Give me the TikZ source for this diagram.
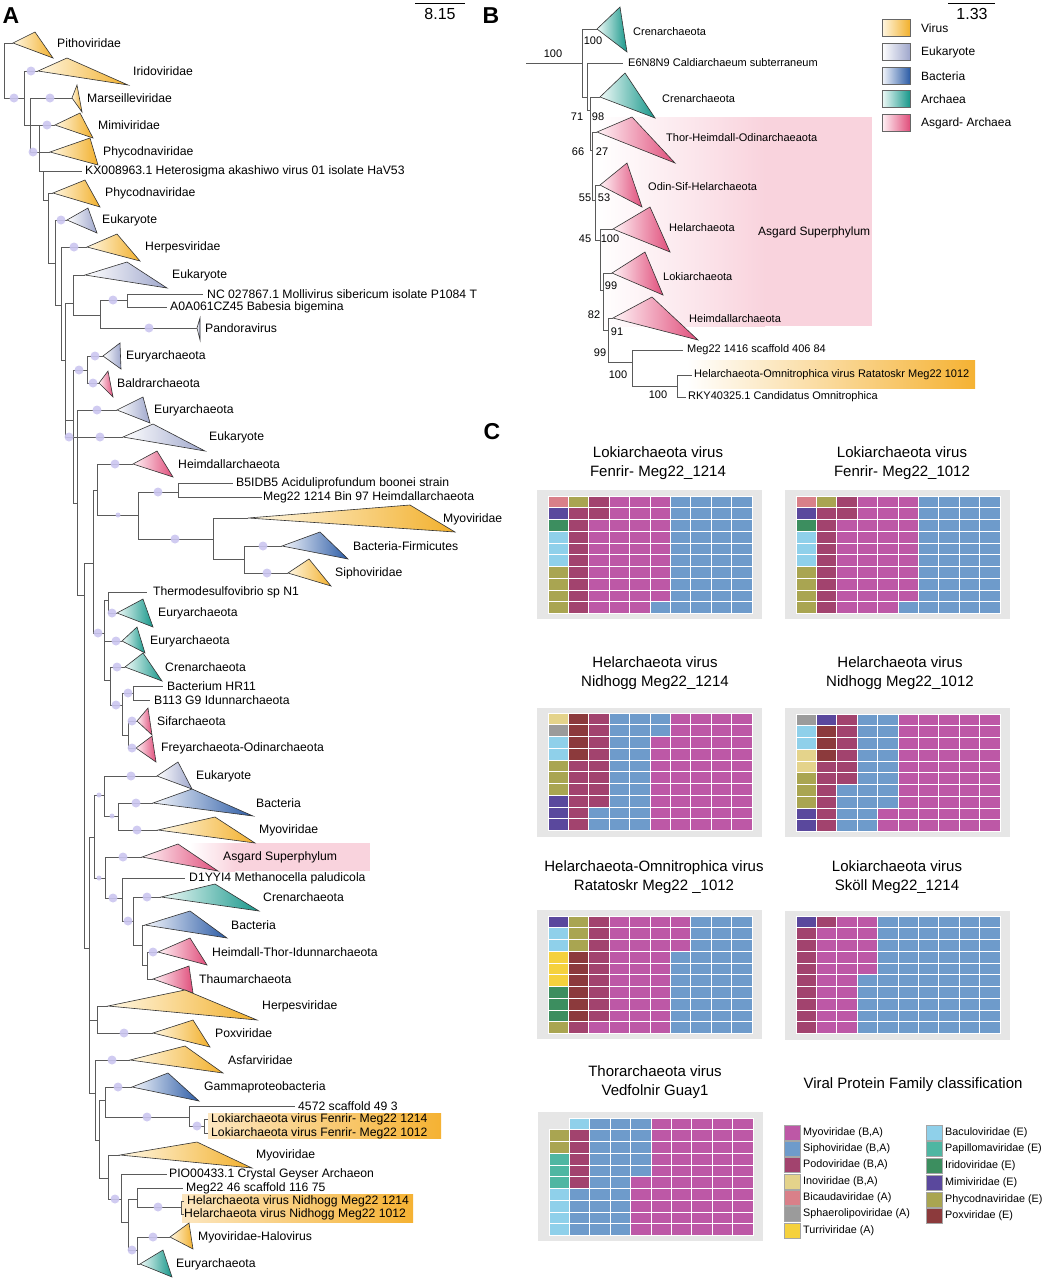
\documentclass[tikz,border=0pt]{standalone}
\usepackage{fontspec}
\setmainfont{Liberation Sans}
\definecolor{vR}{HTML}{F2B02C}\definecolor{vL}{HTML}{FFF7E3}
\definecolor{eR}{HTML}{9FA7CC}\definecolor{eL}{HTML}{FFFFFF}
\definecolor{bR}{HTML}{2C5CA6}\definecolor{bL}{HTML}{F4F6FB}
\definecolor{aR}{HTML}{17978A}\definecolor{aL}{HTML}{F0FAF8}
\definecolor{gR}{HTML}{E04E7B}\definecolor{gL}{HTML}{FFF3F6}
\definecolor{dotc}{HTML}{CBC6F0}
\definecolor{treec}{HTML}{5A5A5A}
\definecolor{hlpink}{HTML}{F9D3DD}
\definecolor{hlorange}{HTML}{F5B233}
\definecolor{hlorL}{HTML}{FCE6BF}
\definecolor{bggray}{HTML}{E6E6E6}
\definecolor{wM}{HTML}{BD58A6}\definecolor{wS}{HTML}{6E9BCB}
\definecolor{wP}{HTML}{A2436E}\definecolor{wI}{HTML}{E4D38B}
\definecolor{wB}{HTML}{D98089}\definecolor{wG}{HTML}{9B9B9B}
\definecolor{wT}{HTML}{F5D13D}\definecolor{wL}{HTML}{8FD0EA}
\definecolor{wA}{HTML}{4FB6A2}\definecolor{wR}{HTML}{3C8E5F}
\definecolor{wV}{HTML}{5A489D}\definecolor{wO}{HTML}{A9A551}
\definecolor{wX}{HTML}{8C3A3C}
\tikzset{
 br/.style={draw=treec, line width=0.75pt},
 tri/.style={draw=black!80, line width=0.6pt},
 lbl/.style={anchor=west, inner sep=0pt, font=\fontsize{12.2}{14}\selectfont},
 blbl/.style={anchor=west, inner sep=0pt, font=\fontsize{11}{13}\selectfont},
 num/.style={inner sep=0pt, font=\fontsize{11}{13}\selectfont},
 ttl/.style={align=center, inner sep=0pt, font=\fontsize{15}{19}\selectfont},
 leg/.style={anchor=west, inner sep=0pt, font=\fontsize{10.8}{13}\selectfont},
 bleg/.style={anchor=west, inner sep=0pt, font=\fontsize{12}{14}\selectfont},
 panel/.style={inner sep=0pt, font=\fontsize{23}{26}\selectfont\bfseries},
 sbar/.style={inner sep=0pt, font=\fontsize{16}{18}\selectfont},
 dot/.style={fill=dotc, draw=none, fill opacity=0.9},
}
\newcommand{\clade}[7]{%
 \coordinate (#1) at (#2);
 \shadedraw[tri, left color=#5L, right color=#5R] (#2) -- (#3) -- (#4) -- cycle;
 \node[lbl] (#1-l) at (#6) {#7};}
\newcommand{\bclade}[7]{%
 \coordinate (#1) at (#2);
 \shadedraw[tri, left color=#5L, right color=#5R] (#2) -- (#3) -- (#4) -- cycle;
 \node[blbl] (#1-l) at (#6) {#7};}
\newcommand{\leaf}[4]{\coordinate (#1) at (#2); \node[lbl] (#1-l) at (#3) {#4};}
\newcommand{\bleaf}[4]{\coordinate (#1) at (#2); \node[blbl] (#1-l) at (#3) {#4};}
\newcommand{\kids}[2]{\foreach \kk in {#2}{\draw[br] (#1) |- (\kk);}}
\newcommand{\supdots}[1]{\foreach \px/\py in {#1}{\fill[dot] (\px,\py) circle (4.5pt);}}
\newcommand{\waffle}[3]{%
 \foreach \wk [count=\wi from 0] in {#3}{%
  \pgfmathtruncatemacro{\wc}{floor(\wi/10)}%
  \pgfmathtruncatemacro{\wr}{mod(\wi,10)}%
  \if\wk N\else
   \fill[fill=w\wk, draw=white, line width=1pt] ({#1+\wc*20.4},{#2+\wr*11.75}) rectangle ++(20.4,11.75);
  \fi}}
\newcommand{\legbox}[4]{\fill[fill=w#1, draw=black!35, line width=0.5pt] (#2,#3-7.5) rectangle ++(16,15); \node[leg] (lg#1) at (#2+19,#3) {#4};}
\begin{document}
\begin{tikzpicture}[x=1pt,y=-1pt]
\useasboundingbox (0,0) rectangle (1046,1280);
\fill[white] (0,0) rectangle (1046,1280);
% ---------------- Panel A ----------------
\node[panel] (pA) at (11,16) {A};
\draw[line width=1pt] (415,3) coordinate (sA1) -- (465,3) coordinate (sA2);
\node[sbar] (sAl) at (440,14) {8.15};
% highlights
\shade[left color=white, right color=hlpink] (190,843) rectangle (235,871);
\fill[hlpink] (235,843) rectangle (370,871);
\shade[left color=hlorL, right color=hlorange] (208,1113) rectangle (441,1138);
\shade[left color=hlorL, right color=hlorange] (182,1194) rectangle (413,1222);
% internal nodes
\coordinate (a1) at (4,70); \coordinate (a2) at (24,98); \coordinate (a3) at (30,125);
\coordinate (a4) at (39,125); \coordinate (a5) at (43,171); \coordinate (a6) at (48,200);
\coordinate (a7) at (55,263); \coordinate (a8) at (61,305); \coordinate (a9) at (65,360);
\coordinate (b1) at (73,303); \coordinate (b2) at (100,315); \coordinate (b3) at (127,300);
\coordinate (a10) at (73,420); \coordinate (c1) at (87,370); \coordinate (a11) at (77,503);
\coordinate (a12) at (84,595); \coordinate (d0) at (93,563); \coordinate (d1) at (97,490);
\coordinate (d2) at (138,515); \coordinate (d3) at (178,492); \coordinate (d4) at (213,539);
\coordinate (d5) at (244,559); \coordinate (e2) at (104,633); \coordinate (e1) at (108,600);
\coordinate (e3) at (110,680); \coordinate (e4) at (122,705); \coordinate (e5) at (133,693);
\coordinate (e6) at (128,735); \coordinate (a13) at (89,948); \coordinate (g1) at (94,837);
\coordinate (g2) at (104,795); \coordinate (g3) at (118,816); \coordinate (g5) at (105,878);
\coordinate (g6) at (122,898); \coordinate (g7) at (133,921); \coordinate (g8) at (142,945);
\coordinate (g9) at (147,965); \coordinate (h1) at (97,1020); \coordinate (h2) at (95,1093);
\coordinate (h3) at (99,1140); \coordinate (h4) at (105,1100); \coordinate (h5) at (189,1117);
\coordinate (h5b) at (204,1126); \coordinate (h6) at (108,1178); \coordinate (h7) at (121,1199);
\coordinate (h8) at (128,1222); \coordinate (h9) at (137,1199); \coordinate (h9b) at (181,1207);
\coordinate (h10) at (137,1250);
% clades
\clade{Pith}{13,43}{35,32}{53,58}{v}{57,43}{Pithoviridae}
\clade{Irid}{38,71}{67,58}{128,85}{v}{133,71}{Iridoviridae}
\clade{Mars}{72,98}{77,85}{82,112}{v}{87,98}{Marseilleviridae}
\clade{Mimi}{55,125}{80,113}{93,138}{v}{98,125}{Mimiviridae}
\clade{PhycoA}{50,152}{90,138}{98,165}{v}{103,152}{Phycodnaviridae}
\clade{PhycoB}{53,193}{85,180}{100,207}{v}{105,193}{Phycodnaviridae}
\clade{EukA}{67,220}{88,208}{97,233}{e}{102,220}{Eukaryote}
\clade{HerpA}{87,247}{117,234}{140,261}{v}{145,247}{Herpesviridae}
\clade{EukB}{85,275}{127,262}{167,288}{e}{172,275}{Eukaryote}
\clade{Pand}{197,328}{200,318}{200,340}{e}{205,328}{Pandoravirus}
\clade{EuryA}{103,356}{120,343}{121,369}{e}{126,356}{Euryarchaeota}
\clade{Baldr}{99,383}{108,371}{113,397}{g}{117,383}{Baldrarchaeota}
\clade{EuryB}{117,410}{143,397}{150,423}{e}{154,410}{Euryarchaeota}
\clade{EukC}{123,437}{153,424}{205,451}{e}{209,437}{Eukaryote}
\clade{HeimA}{133,464}{157,451}{173,477}{g}{178,464}{Heimdallarchaeota}
\clade{MyoA}{248,518}{410,505}{455,532}{v}{443,519}{Myoviridae}
\clade{BactF}{282,546}{320,532}{348,559}{b}{353,546}{Bacteria-Firmicutes}
\clade{Sipho}{288,573}{309,559}{331,586}{v}{335,573}{Siphoviridae}
\clade{EuryC}{117,613}{143,599}{153,627}{a}{158,613}{Euryarchaeota}
\clade{EuryD}{122,641}{137,627}{145,653}{a}{150,641}{Euryarchaeota}
\clade{CrenA}{125,667}{143,653}{162,681}{a}{165,667}{Crenarchaeota}
\clade{Sif}{137,721}{148,708}{152,735}{g}{157,721}{Sifarchaeota}
\clade{Frey}{136,748}{152,736}{156,762}{g}{161,748}{Freyarchaeota-Odinarchaeota}
\clade{EukD}{157,776}{178,762}{192,789}{e}{196,776}{Eukaryote}
\clade{BactA}{153,803}{192,789}{253,816}{b}{256,803}{Bacteria}
\clade{MyoB}{158,830}{215,817}{255,843}{v}{259,830}{Myoviridae}
\clade{Asg}{142,857}{178,844}{218,871}{g}{223,857}{Asgard Superphylum}
\clade{CrenB}{161,897}{215,884}{259,911}{a}{263,897}{Crenarchaeota}
\clade{BactB}{145,925}{190,911}{227,938}{b}{231,925}{Bacteria}
\clade{HTI}{158,952}{190,938}{207,965}{g}{212,952}{Heimdall-Thor-Idunnarchaeota}
\clade{Thaum}{153,979}{189,966}{193,993}{g}{199,979}{Thaumarchaeota}
\clade{HerpB}{108,1006}{185,990}{257,1020}{v}{262,1006}{Herpesviridae}
\clade{Pox}{153,1033}{193,1020}{210,1047}{v}{215,1033}{Poxviridae}
\clade{Asfar}{130,1060}{185,1046}{223,1073}{v}{228,1060}{Asfarviridae}
\clade{Gamma}{132,1087}{168,1073}{199,1101}{b}{204,1087}{Gammaproteobacteria}
\clade{MyoC}{120,1155}{197,1142}{252,1168}{v}{256,1155}{Myoviridae}
\clade{Halo}{170,1237}{189,1223}{193,1249}{v}{198,1237}{Myoviridae-Halovirus}
\clade{EuryE}{140,1264}{163,1250}{172,1277}{a}{176,1264}{Euryarchaeota}
% leaves
\leaf{KX}{82,171}{85,171}{KX008963.1 Heterosigma akashiwo virus 01 isolate HaV53}
\leaf{Molli}{203,294}{207,294}{NC 027867.1 Mollivirus sibericum isolate P1084 T}
\leaf{Babe}{167,307}{170,307}{A0A061CZ45 Babesia bigemina}
\leaf{B5}{233,483}{236,483}{B5IDB5 Aciduliprofundum boonei strain}
\leaf{MegBin}{262,497}{263,497}{Meg22 1214 Bin 97 Heimdallarchaeota}
\leaf{Thermo}{147,592}{153,592}{Thermodesulfovibrio sp N1}
\leaf{HR}{163,686}{167,686}{Bacterium HR11}
\leaf{B113}{150,700}{154,700}{B113 G9 Idunnarchaeota}
\leaf{D1}{185,878}{189,878}{D1YYI4 Methanocella paludicola}
\leaf{Scaf}{295,1106}{298,1106}{4572 scaffold 49 3}
\leaf{FenA}{208,1119}{211,1119}{Lokiarchaeota virus Fenrir- Meg22 1214}
\leaf{FenB}{208,1133}{211,1133}{Lokiarchaeota virus Fenrir- Meg22 1012}
\leaf{PIO}{167,1174}{169,1174}{PIO00433.1 Crystal Geyser Archaeon}
\leaf{Meg46}{183,1188}{186,1188}{Meg22 46 scaffold 116 75}
\leaf{NidA}{184,1201}{187,1201}{Helarchaeota virus Nidhogg Meg22 1214}
\leaf{NidB}{184,1214}{184,1214}{Helarchaeota virus Nidhogg Meg22 1012}
% edges
\kids{a1}{Pith,a2}\kids{a2}{Irid,a3}\kids{a3}{Mars,PhycoA,a4}\kids{a4}{Mimi,a5}
\kids{a5}{KX,a6}\kids{a6}{PhycoB,a7}\kids{a7}{EukA,a8}\kids{a8}{HerpA,a9}
\kids{a9}{b1,EukC,a10}\kids{b1}{EukB,b2}\kids{b2}{b3,Pand}\kids{b3}{Molli,Babe}
\kids{a10}{c1,a11}\kids{c1}{EuryA,Baldr}\kids{a11}{EuryB,a12}\kids{a12}{d0,a13}
\kids{d0}{d1,e2}\kids{d1}{HeimA,d2}\kids{d2}{d3,d4}\kids{d3}{B5,MegBin}
\kids{d4}{MyoA,d5}\kids{d5}{BactF,Sipho}\kids{e2}{e1,EuryD,e3}\kids{e1}{Thermo,EuryC}
\kids{e3}{CrenA,e4}\kids{e4}{e5,e6}\kids{e5}{HR,B113}\kids{e6}{Sif,Frey}
\kids{a13}{g1,h1,h2}\kids{g1}{g2,g5}\kids{g2}{EukD,g3}\kids{g3}{BactA,MyoB}
\kids{g5}{Asg,g6}\kids{g6}{D1,g7}\kids{g7}{CrenB,g8}\kids{g8}{BactB,g9}\kids{g9}{HTI,Thaum}
\kids{h1}{HerpB,Pox}\kids{h2}{Asfar,h3}\kids{h3}{h4,h6}\kids{h4}{Gamma,h5}
\kids{h5}{Scaf,h5b}\kids{h5b}{FenA,FenB}\kids{h6}{MyoC,h7}\kids{h7}{PIO,h8}
\kids{h8}{h9,h10}\kids{h9}{Meg46,h9b}\kids{h9b}{NidA,NidB}\kids{h10}{Halo,EuryE}
% support dots
\supdots{14/98,31/71,50/98,47/125,33/152,61/220,74/247,113/300,149/328,95/356,79/370,93/383,97/410,100/437,69/437,115/464,158/492,175/539,263/546,267/573,112/613,98/633,116/641,117/667,116/705,128/693,132/721,132/748,131/776,136/803,137/830,123/857,113/898,147/897,128/921,153/952,124/1033,112/1060,118/1087,147/1117,197/1126,115/1199,158/1207,153/1237,132/1250}
\foreach \px/\py in {118/515,112/816,99/795,99/878}{\fill[dot] (\px,\py) circle (2.5pt);}
% ---------------- Panel B ----------------
\node[panel] (pB) at (491,16) {B};
\draw[line width=1pt] (948,3) coordinate (sB1) -- (995,3) coordinate (sB2);
\node[sbar] (sBl) at (972,14) {1.33};
\shade[left color=white, right color=hlpink] (597,117) rectangle (765,326);
\fill[hlpink] (765,117) rectangle (872,326);
\shade[left color=white, right color=hlorange] (687,360) rectangle (975,388);
\node[bleg] (asgB) at (758,232) {Asgard Superphylum};
\coordinate (Rs) at (526,63); \coordinate (R) at (582,63);
\coordinate (N71) at (587,97); \coordinate (N98) at (590,110); \coordinate (N66) at (592,150);
\coordinate (N55) at (595,200); \coordinate (N45) at (600,240); \coordinate (N82) at (603,290);
\coordinate (N99) at (608,330); \coordinate (NA) at (632,362); \coordinate (NB) at (677,386);
\bclade{bCrenA}{597,29}{620,7}{627,52}{a}{633,32}{Crenarchaeota}
\bclade{bCrenB}{600,97}{625,73}{655,118}{a}{662,99}{Crenarchaeota}
\bclade{bThor}{597,132}{632,117}{675,163}{g}{666,138}{Thor-Heimdall-Odinarchaeaota}
\bclade{bOdin}{600,185}{627,163}{642,207}{g}{648,187}{Odin-Sif-Helarchaeota}
\bclade{bHel}{613,229}{650,207}{670,252}{g}{669,228}{Helarchaeota}
\bclade{bLoki}{612,273}{645,252}{663,295}{g}{663,277}{Lokiarchaeota}
\bclade{bHeim}{613,318}{652,297}{698,340}{g}{689,319}{Heimdallarchaeota}
\bleaf{bE6}{623,63}{628,63}{E6N8N9 Caldiarchaeum subterraneum}
\bleaf{bMeg}{683,350}{687,350}{Meg22 1416 scaffold 406 84}
\bleaf{bRat}{692,375}{694,375}{Helarchaeota-Omnitrophica virus Ratatoskr Meg22 1012}
\bleaf{bRKY}{686,397}{688,397}{RKY40325.1 Candidatus Omnitrophica}
\draw[br] (Rs) -- (R);
\kids{R}{bCrenA,N71}\kids{N71}{bE6,N98}\kids{N98}{bCrenB,N66}\kids{N66}{bThor,N55}
\kids{N55}{bOdin,N45}\kids{N45}{bHel,N82}\kids{N82}{bLoki,N99}\kids{N99}{bHeim,NA}
\kids{NA}{bMeg,NB}\kids{NB}{bRat,bRKY}
\foreach \t/\px/\py [count=\n] in {100/553/54,100/593/41,71/577/117,98/598/117,66/578/152,27/602/152,55/585/198,53/604/198,45/585/239,100/610/239,99/611/286,82/594/315,91/617/332,99/600/353,100/618/375,100/658/395}{\node[num] (bs\n) at (\px,\py) {\t};}
% legend B
\foreach \c/\lab/\yy [count=\n] in {v/Virus/28,e/Eukaryote/52,b/Bacteria/76,a/Archaea/99,g/Asgard- Archaea/123}{
 \shadedraw[draw=black!60, line width=0.6pt, left color=\c L, right color=\c R] (882,\yy-8.5) rectangle (910,\yy+8.5);
 \node[bleg] (lb\n) at (921,\yy) {\lab};}
% ---------------- Panel C ----------------
\node[panel] (pC) at (492,432) {C};
\foreach \bx/\by in {537/490,785/490,537/708,785/708,537/910,785/911,538/1112}{\fill[bggray] (\bx,\by) rectangle ++(225,129);}
\node[ttl] (t1) at (658,463) {Lokiarchaeota virus\\Fenrir- Meg22\_1214};
\node[ttl] (t2) at (902,463) {Lokiarchaeota virus\\Fenrir- Meg22\_1012};
\node[ttl] (t3) at (655,673) {Helarchaeota virus\\Nidhogg Meg22\_1214};
\node[ttl] (t4) at (900,673) {Helarchaeota virus\\Nidhogg Meg22\_1012};
\node[ttl] (t5) at (654,877) {Helarchaeota-Omnitrophica virus\\Ratatoskr Meg22 \_1012};
\node[ttl] (t6) at (897,877) {Lokiarchaeota virus\\Sköll Meg22\_1214};
\node[ttl] (t7) at (655,1082) {Thorarchaeota virus\\Vedfolnir Guay1};
\node[ttl] (t8) at (913,1085) {Viral Protein Family classification};
\waffle{548}{496}{B,V,R,L,L,L,O,O,O,O,O,P,P,P,P,P,P,P,P,P,P,P,M,M,M,M,M,M,M,M,M,M,M,M,M,M,M,M,M,M,M,M,M,M,M,M,M,M,M,M,M,M,M,M,M,M,M,M,M,S,S,S,S,S,S,S,S,S,S,S,S,S,S,S,S,S,S,S,S,S,S,S,S,S,S,S,S,S,S,S,S,S,S,S,S,S,S,S,S,S}
\waffle{796}{496}{B,V,R,L,L,L,O,O,O,O,O,P,P,P,P,P,P,P,P,P,P,P,M,M,M,M,M,M,M,M,M,M,M,M,M,M,M,M,M,M,M,M,M,M,M,M,M,M,M,M,M,M,M,M,M,M,M,M,M,S,S,S,S,S,S,S,S,S,S,S,S,S,S,S,S,S,S,S,S,S,S,S,S,S,S,S,S,S,S,S,S,S,S,S,S,S,S,S,S,S}
\waffle{548}{713}{I,G,L,L,O,O,O,V,V,V,X,X,X,X,P,P,P,P,P,P,P,P,P,P,P,P,P,P,S,S,S,S,S,S,S,S,S,S,S,S,S,S,S,S,S,S,S,S,S,S,S,S,M,M,M,M,M,M,M,M,M,M,M,M,M,M,M,M,M,M,M,M,M,M,M,M,M,M,M,M,M,M,M,M,M,M,M,M,M,M,M,M,M,M,M,M,M,M,M,M}
\waffle{796}{714}{G,L,L,I,I,O,O,O,V,V,V,X,X,X,P,P,P,P,P,P,P,P,P,P,P,P,S,S,S,S,S,S,S,S,S,S,S,S,S,S,S,S,S,S,S,S,S,S,M,M,M,M,M,M,M,M,M,M,M,M,M,M,M,M,M,M,M,M,M,M,M,M,M,M,M,M,M,M,M,M,M,M,M,M,M,M,M,M,M,M,M,M,M,M,M,M,M,M,M,M}
\waffle{548}{916}{V,L,L,T,T,T,R,R,R,O,O,O,O,X,X,X,X,X,X,P,P,P,P,P,P,P,P,P,P,M,M,M,M,M,M,M,M,M,M,M,M,M,M,M,M,M,M,M,M,M,M,M,M,M,M,M,M,M,M,M,M,M,M,S,S,S,S,S,S,S,S,S,S,S,S,S,S,S,S,S,S,S,S,S,S,S,S,S,S,S,S,S,S,S,S,S,S,S,S,S}
\waffle{796}{916}{V,P,P,P,P,P,P,P,P,P,P,M,M,M,M,M,M,M,M,M,M,M,M,M,M,M,M,M,M,M,M,M,M,M,M,S,S,S,S,S,S,S,S,S,S,S,S,S,S,S,S,S,S,S,S,S,S,S,S,S,S,S,S,S,S,S,S,S,S,S,S,S,S,S,S,S,S,S,S,S,S,S,S,S,S,S,S,S,S,S,S,S,S,S,S,S,S,S,S,S}
\waffle{549}{1118}{N,O,O,A,A,A,L,L,L,L,L,P,P,P,P,P,S,S,S,S,S,S,S,S,S,S,S,S,S,S,S,S,S,S,S,S,S,S,S,S,S,S,S,S,S,M,M,M,M,M,M,M,M,M,M,M,M,M,M,M,M,M,M,M,M,M,M,M,M,M,M,M,M,M,M,M,M,M,M,M,M,M,M,M,M,M,M,M,M,M,M,M,M,M,M,M,M,M,M,M}
% legend C
\legbox{M}{784}{1133}{Myoviridae (B,A)}
\legbox{S}{784}{1149}{Siphoviridae (B,A)}
\legbox{P}{784}{1165}{Podoviridae (B,A)}
\legbox{I}{784}{1182}{Inoviridae (B,A)}
\legbox{B}{784}{1198}{Bicaudaviridae (A)}
\legbox{G}{784}{1214}{Sphaerolipoviridae (A)}
\legbox{T}{784}{1231}{Turriviridae (A)}
\legbox{L}{926}{1133}{Baculoviridae (E)}
\legbox{A}{926}{1149}{Papillomaviridae (E)}
\legbox{R}{926}{1166}{Iridoviridae (E)}
\legbox{V}{926}{1183}{Mimiviridae (E)}
\legbox{O}{926}{1200}{Phycodnaviridae (E)}
\legbox{X}{926}{1216}{Poxviridae (E)}
\end{tikzpicture}
\end{document}
